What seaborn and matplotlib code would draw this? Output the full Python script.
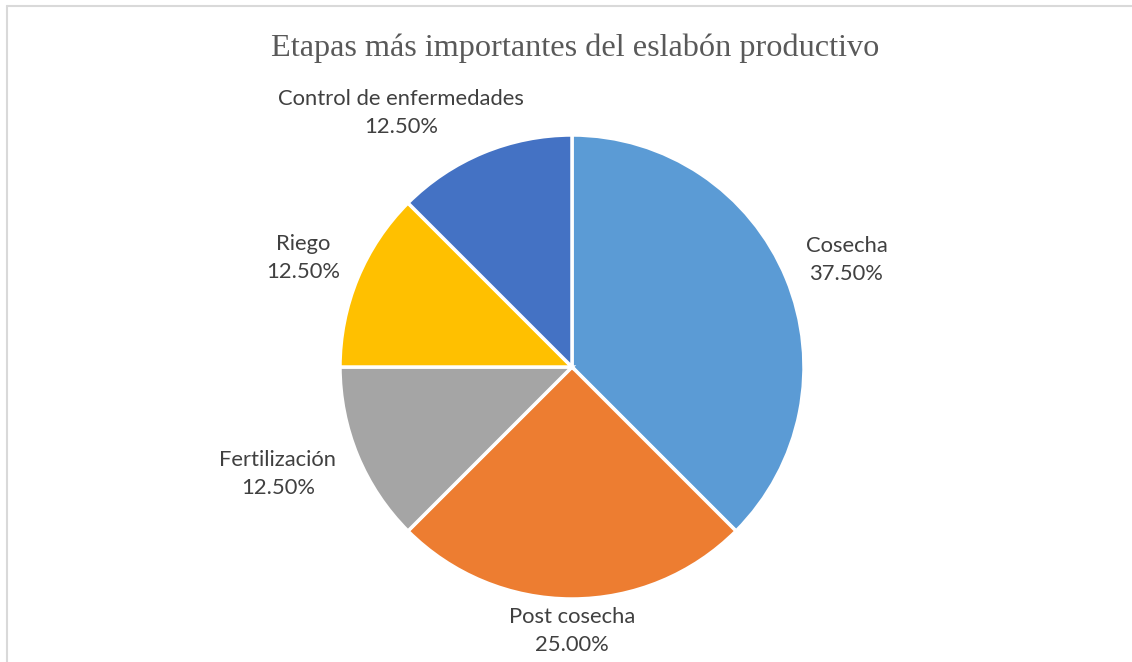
import numpy as np
import matplotlib
matplotlib.use("Agg")
import matplotlib.pyplot as plt
import seaborn as sns

# === Data ===
etapas = ["Cosecha", "Post cosecha", "Fertilización", "Riego", "Control de enfermedades"]
porcentajes = [37.5, 25.0, 12.5, 12.5, 12.5]
colores = ["#5B9BD5", "#ED7D31", "#A5A5A5", "#FFC000", "#4472C4"]

# label placement (distance from centre in radii, angle tweak in degrees)
label_dist = [1.27, 1.14, 1.35, 1.25, 1.32]
label_shift = [-1.2, 0.0, -2.5, 0.5, 11.5]

sns.set_theme(style="white")
plt.rcParams['font.family'] = ['Lato', 'DejaVu Sans']

W, H = 1132, 662
fig = plt.figure(figsize=(W / 100, H / 100), dpi=100)
fig.patch.set_facecolor("white")

# chart frame (light gray border, left and top)
fig.add_artist(plt.Line2D([6.5 / W, 6.5 / W], [0, 1 - 5.5 / H], color="#D9D9D9", lw=1.5))
fig.add_artist(plt.Line2D([6.5 / W, 1], [1 - 5.5 / H, 1 - 5.5 / H], color="#D9D9D9", lw=1.5))

fig.text(575 / W, 1 - 48 / H, "Etapas más importantes del eslabón productivo",
         ha="center", va="center", fontsize=23.2, color="#595959",
         family=["Liberation Serif", "DejaVu Serif"])

cx, cy, r = 572, 367, 232
ax = fig.add_axes([(cx - r) / W, (H - cy - r) / H, 2 * r / W, 2 * r / H])
wedges, _ = ax.pie(porcentajes, colors=colores, startangle=90, counterclock=False,
                   radius=1, wedgeprops=dict(edgecolor="white", linewidth=2.5))
ax.set_xlim(-1, 1)
ax.set_ylim(-1, 1)
ax.set_aspect("equal")
ax.axis("off")

for w, name, pct, d, s in zip(wedges, etapas, porcentajes, label_dist, label_shift):
    ang = np.deg2rad((w.theta1 + w.theta2) / 2 + s)
    ax.text(d * np.cos(ang), d * np.sin(ang), f"{name}\n{pct:.2f}%",
            ha="center", va="center", fontsize=15.8, color="#404040",
            linespacing=1.5, clip_on=False)

fig.savefig("out.png", dpi=100, facecolor="white")
